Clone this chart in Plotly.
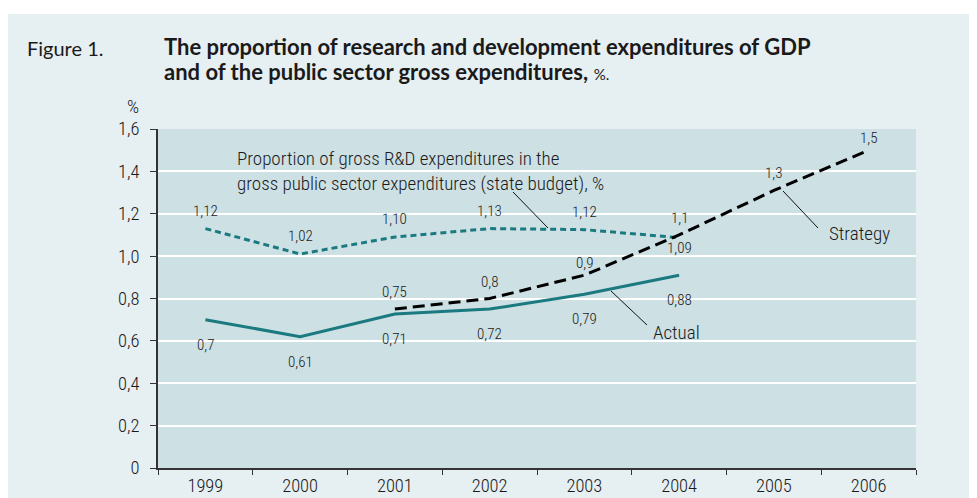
import plotly.graph_objects as go

years = ["1999", "2000", "2001", "2002", "2003", "2004", "2005", "2006"]

public_years = ["1999", "2000", "2001", "2002", "2003", "2004"]
public_values = [1.13, 1.01, 1.09, 1.13, 1.125, 1.087]
public_labels = ["1,12", "1,02", "1,10", "1,13", "1,12", "1,09"]

actual_years = ["1999", "2000", "2001", "2002", "2003", "2004"]
actual_values = [0.70, 0.62, 0.727, 0.75, 0.82, 0.91]
actual_labels = ["0,7", "0,61", "0,71", "0,72", "0,79", "0,88"]

strategy_years = ["2001", "2002", "2003", "2004", "2005", "2006"]
strategy_values = [0.75, 0.80, 0.91, 1.10, 1.31, 1.50]
strategy_labels = ["0,75", "0,8", "0,9", "1,1", "1,3", "1,5"]

y_tickvals = [0, 0.2, 0.4, 0.6, 0.8, 1.0, 1.2, 1.4, 1.6]
y_ticktext = ["0", "0,2", "0,4", "0,6", "0,8", "1,0", "1,2", "1,4", "1,6"]

# page body adds an 8px offset; screen coords are converted below
OFF = 8
W, H = 977, 498
L, R, T, B = 150, 69, 121, 38
PW, PH = W - L - R, H - T - B


def px(x):
    return (x - OFF - L) / PW


def py(y):
    return (H - B - (y - OFF)) / PH


FONT = "Roboto Condensed, Liberation Sans Narrow, sans-serif"
TFONT = "Lato, Open Sans, sans-serif"
TEAL = "#1a7a80"
TXT = "#1a1a1a"
LW = 300

fig = go.Figure()
fig.add_trace(go.Scatter(x=public_years, y=public_values, mode="lines",
                         line=dict(color=TEAL, width=3, dash="6px,4px"),
                         hoverinfo="skip", showlegend=False))
fig.add_trace(go.Scatter(x=actual_years, y=actual_values, mode="lines",
                         line=dict(color=TEAL, width=3),
                         hoverinfo="skip", showlegend=False))
fig.add_trace(go.Scatter(x=strategy_years, y=strategy_values, mode="lines",
                         line=dict(color="#000000", width=3, dash="12px,6px"),
                         hoverinfo="skip", showlegend=False))

annotations = []
lab_font = dict(family=FONT, size=15, color=TXT, weight=LW)
for i, (xv, yv, t) in enumerate(zip(public_years, public_values, public_labels)):
    shift = -10 if i == len(public_years) - 1 else 18
    annotations.append(dict(x=years.index(xv), y=yv, text=t, showarrow=False, yshift=shift,
                            font=lab_font, xref="x", yref="y"))
for xv, yv, t in zip(strategy_years, strategy_values, strategy_labels):
    shift = 12 if xv in ("2003", "2006") else 17
    annotations.append(dict(x=years.index(xv), y=yv, text=t, showarrow=False, yshift=shift,
                            font=lab_font, xref="x", yref="y"))
for xv, yv, t in zip(actual_years, actual_values, actual_labels):
    annotations.append(dict(x=years.index(xv), y=yv, text=t, showarrow=False, yshift=-25,
                            font=lab_font, xref="x", yref="y"))

annotations += [
    dict(x=px(25), y=py(48), xref="paper", yref="paper", xanchor="left", yanchor="middle",
         text="Figure 1.", showarrow=False, font=dict(family=TFONT, size=20, color=TXT, weight=400)),
    dict(x=px(162), y=py(46), xref="paper", yref="paper", xanchor="left", yanchor="middle",
         text="<b>The proportion of research and development expenditures of GDP</b>",
         showarrow=False, font=dict(family=TFONT, size=22, color=TXT, weight=400)),
    dict(x=px(162), y=py(72), xref="paper", yref="paper", xanchor="left", yanchor="middle",
         text="<b>and of the public sector gross expenditures,</b> <span style='font-size:15px'>%.</span>",
         showarrow=False, font=dict(family=TFONT, size=22, color=TXT, weight=400)),
    dict(x=px(133), y=py(107), xref="paper", yref="paper", xanchor="center", yanchor="middle",
         text="%", showarrow=False, font=dict(family=FONT, size=19, color=TXT, weight=LW)),
    dict(x=px(235), y=py(171), xref="paper", yref="paper", xanchor="left", yanchor="middle",
         text="Proportion of gross R&D expenditures in the<br>gross public sector expenditures (state budget), %",
         align="left", showarrow=False, font=dict(family=FONT, size=19, color=TXT, weight=LW)),
    dict(x=px(827), y=py(233), xref="paper", yref="paper", xanchor="left", yanchor="middle",
         text="Strategy", showarrow=False, font=dict(family=FONT, size=19, color=TXT, weight=LW)),
    dict(x=px(651), y=py(332), xref="paper", yref="paper", xanchor="left", yanchor="middle",
         text="Actual", showarrow=False, font=dict(family=FONT, size=19, color=TXT, weight=LW)),
]

shapes = [
    dict(type="rect", xref="paper", yref="paper", x0=px(8), x1=px(990), y0=py(510), y1=py(14),
         fillcolor="#e6eff2", line=dict(width=0), layer="below"),
    dict(type="rect", xref="paper", yref="paper", x0=0, x1=1, y0=0, y1=1,
         fillcolor="#cde0e4", line=dict(width=0), layer="below"),
]
for (x0, y0, x1, y1) in [(513, 192, 548, 228), (783, 191, 818, 228), (611, 291, 647, 325)]:
    shapes.append(dict(type="line", xref="paper", yref="paper", x0=px(x0), y0=py(y0),
                       x1=px(x1), y1=py(y1), line=dict(color="#111111", width=1)))

fig.update_layout(
    width=W, height=H,
    margin=dict(l=L, r=R, t=T, b=B, autoexpand=False),
    paper_bgcolor="#ffffff",
    plot_bgcolor="rgba(0,0,0,0)",
    showlegend=False,
    annotations=annotations,
    shapes=shapes,
    font=dict(family=FONT, size=18, color=TXT, weight=LW),
    xaxis=dict(type="category", categoryorder="array", categoryarray=years,
               range=[-0.5, 7.5], tickson="boundaries", ticks="outside", ticklen=5,
               tickcolor="#333333", showline=True, linecolor="#333333", linewidth=1.5,
               showgrid=False, zeroline=False, fixedrange=True, ticklabelstandoff=0,
               automargin=False,
               tickfont=dict(family=FONT, size=18.5, color=TXT, weight=LW)),
    yaxis=dict(range=[0, 1.6], tickvals=y_tickvals, ticktext=y_ticktext,
               ticks="outside", ticklen=6, tickcolor="#333333", showline=True,
               linecolor="#333333", linewidth=1.5, showgrid=True, gridcolor="#ffffff",
               gridwidth=1.5, zeroline=False, fixedrange=True, ticklabelstandoff=7,
               automargin=False,
               tickfont=dict(family=FONT, size=18.5, color=TXT, weight=LW)),
)

fig.write_html("out.html")
